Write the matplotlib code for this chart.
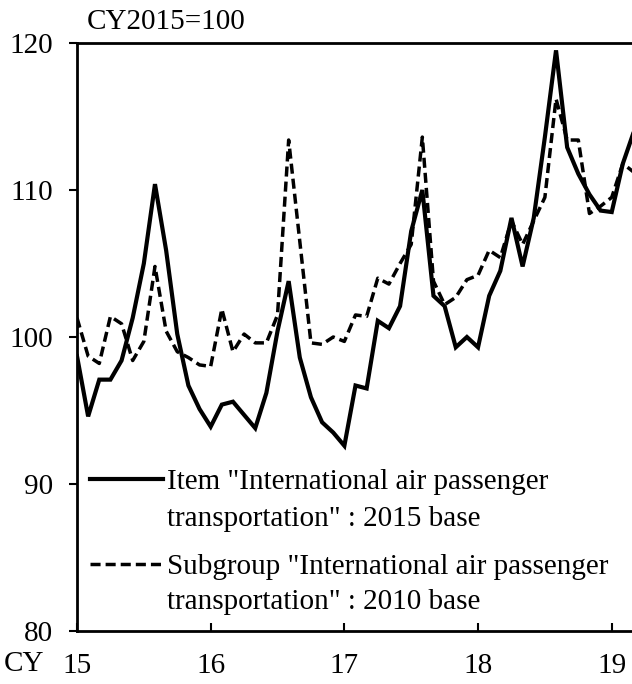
import numpy as np
import matplotlib
matplotlib.use('Agg')
import matplotlib.pyplot as plt
from matplotlib.lines import Line2D

plt.rcParams['font.family'] = ['Liberation Serif', 'DejaVu Serif']

# monthly index, Jan 2015 = 0
item_2015 = [98.7, 94.6, 97.1, 97.1, 98.4, 101.3, 105.0, 110.4, 105.9, 100.2, 96.7, 95.1,
             93.9, 95.4, 95.6, 94.7, 93.8, 96.2, 100.4, 103.8, 98.6, 95.9, 94.2, 93.5,
             92.6, 96.7, 96.5, 101.1, 100.6, 102.1, 107.2, 110.0, 102.8, 102.1, 99.3, 100.0,
             99.3, 102.8, 104.5, 108.1, 104.8, 108.1, 113.6, 119.5, 112.9, 111.1, 109.7, 108.6,
             108.5, 111.8, 114.0]
subgroup_2010 = [101.3, 98.7, 98.2, 101.4, 100.9, 98.4, 99.7, 104.8, 100.4, 99.0, 98.6, 98.1,
                 98.0, 101.9, 99.0, 100.2, 99.6, 99.6, 101.5, 113.4, 106.5, 99.6, 99.5, 100.0,
                 99.7, 101.5, 101.4, 104.0, 103.6, 105.0, 106.3, 113.6, 103.8, 102.2, 102.7, 103.9,
                 104.2, 105.9, 105.4, 107.9, 106.3, 107.9, 109.5, 116.2, 113.4, 113.4, 108.4, 108.9,
                 109.5, 111.8, 111.2]
year_labels = ['15', '16', '17', '18', '19']
label_item = ['Item "International air passenger', 'transportation" : 2015 base']
label_sub = ['Subgroup "International air passenger', 'transportation" : 2010 base']

months = np.arange(len(item_2015))
W, H = 632, 684
solid_kw = dict(color='k', lw=3.0, solid_joinstyle='miter')
dash_kw = dict(color='k', lw=2.5, dashes=(2.9, 1.45))

fig = plt.figure(figsize=(W/100, H/100), dpi=100)
ax = fig.add_axes([77/W, 53/H, 1 - 77/W, 588/H])

ax.plot(months, item_2015, **solid_kw)
ax.plot(months, subgroup_2010, **dash_kw)

ax.set_xlim(0, 49.82)
ax.set_ylim(80, 120)
ax.set_yticks([80, 90, 100, 110, 120])
ax.set_xticks([0, 12, 24, 36, 48])
ax.set_xticklabels(year_labels)
ax.tick_params(axis='y', direction='out', length=6, width=1.5, pad=11, labelsize=21)
ax.tick_params(axis='x', direction='in', length=6, width=1.5, pad=16, labelsize=21)
ax.spines['right'].set_visible(False)
for s in ['left', 'bottom', 'top']:
    ax.spines[s].set_linewidth(2)

fig.text(4/W, 1 - 664/H, 'CY', fontsize=21, va='center', ha='left')
fig.text(87/W, 1 - 22/H, 'CY2015=100', fontsize=21, va='center', ha='left')

# legend drawn by hand so the sample line sits on the first text line
for (l1, l2), kw, y1, y2 in [(label_item, solid_kw, 479, 516), (label_sub, dash_kw, 564, 599)]:
    fig.add_artist(Line2D([90/W, 163/W], [1 - y1/H, 1 - y1/H], transform=fig.transFigure, **kw))
    fig.text(167/W, 1 - y1/H, l1, fontsize=21, va='center_baseline', ha='left')
    fig.text(167/W, 1 - y2/H, l2, fontsize=21, va='center_baseline', ha='left')

fig.savefig('out.png', dpi=100)
